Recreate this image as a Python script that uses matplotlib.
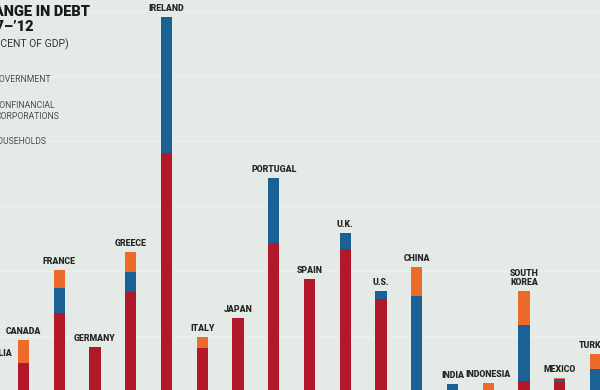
import numpy as np
import matplotlib
matplotlib.use("Agg")
import matplotlib.pyplot as plt

# ==================================================
# Data (change in debt 2007-'12, percent of GDP)
# ==================================================

countries = ["AUSTRALIA", "CANADA", "FRANCE", "GERMANY", "GREECE", "IRELAND",
             "ITALY", "JAPAN", "PORTUGAL", "SPAIN", "U.K.", "U.S.", "CHINA",
             "INDIA", "INDONESIA", "SOUTH\nKOREA", "MEXICO", "TURKEY"]

government = [22, 29.5, 67.7, 41.5, 83.8, 190.8, 40.8, 63.8, 121.5, 93.8,
              116.9, 78.5, 0, 0, 0, 15.4, 14.6, 0]
corporations = [3, 0, 19.2, 0, 15.4, 104.6, 0, 0, 50.0, 0,
                12.3, 6.2, 80.8, 13.0, 0, 43.1, 2.3, 24.4]
households = [5, 17.4, 13.9, 0, 15.4, 0, 8.5, 0, 0, 0,
              0, 0, 22.3, 0, 14.0, 26.1, 1.0, 11.8]

c_gov = "#b3182a"
c_corp = "#1b6194"
c_hh = "#ee6a2a"
bg = "#e4ebe7"

font = ["Roboto", "DejaVu Sans"]

# ==================================================
# Plot
# ==================================================

fig = plt.figure(figsize=(6, 3.9), dpi=100, facecolor=bg)
ax = fig.add_axes([0, 0, 1, 1])
ax.set_facecolor(bg)

x = np.arange(len(countries))
gov = np.array(government)
corp = np.array(corporations)
hh = np.array(households)
w = 0.31

for v in range(0, 351, 50):
    ax.axhline(v, color="#ebf0ed", lw=1.0, zorder=0)

ax.bar(x, gov, w, color=c_gov, zorder=2)
ax.bar(x, corp, w, bottom=gov, color=c_corp, zorder=2)
ax.bar(x, hh, w, bottom=gov + corp, color=c_hh, zorder=2)

total = gov + corp + hh
for xi, t, name in zip(x, total, countries):
    ax.annotate(name, (xi, t), xytext=(0, 3), textcoords="offset points",
                ha="center", va="bottom", fontsize=6.3, fontweight="heavy",
                family=font, color="#262626", linespacing=1.0, zorder=3,
                annotation_clip=False)

# map the crop: bar 1 (Canada) at 23.5 px, spacing 35.75 px; baseline 401 px
ax.set_xlim(1 - 23.5 / 35.75, 1 + (600 - 23.5) / 35.75)
ax.set_ylim((401 - 390) / 1.3, 401 / 1.3)
ax.axis("off")

# title and legend texts (left part cropped off in the original)
def px(xp, yp):
    return xp / 600, 1 - yp / 390

fig.text(*px(90, 12), "CHANGE IN DEBT", ha="right", va="center",
         fontsize=10.5, fontweight="heavy", family=font, color="#1a1a1a")
fig.text(*px(34, 27), "2007\u2013\u201912", ha="right", va="center",
         fontsize=10.5, fontweight="heavy", family=font, color="#1a1a1a")
fig.text(*px(69, 44), "(PERCENT OF GDP)", ha="right", va="center",
         fontsize=7.5, family=font, color="#333333")

legend_items = [("GOVERNMENT", 51, 80), ("NONFINANCIAL", 55, 106),
                ("CORPORATIONS", 59, 116.5), ("HOUSEHOLDS", 46, 141.5)]
for label, xe, yp in legend_items:
    fig.text(*px(xe, yp), label, ha="right", va="center",
             fontsize=6.2, family=font, color="#4d4d4d")

fig.savefig("out.png", dpi=100, facecolor=bg)
